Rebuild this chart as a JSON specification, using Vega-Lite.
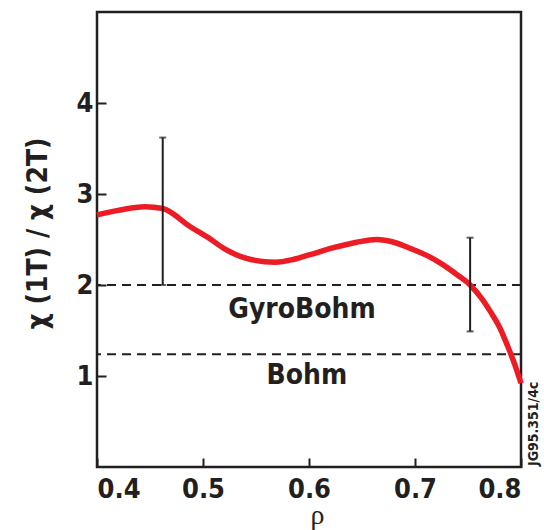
{
  "$schema": "https://vega.github.io/schema/vega-lite/v6.json",
  "autosize": "none",
  "width": 424,
  "height": 455,
  "padding": {"left": 97, "top": 12, "right": 23, "bottom": 63},
  "background": "white",
  "config": {
    "view": {"stroke": "#231f20", "strokeWidth": 2.5},
    "font": "DejaVu Sans Condensed, Liberation Sans Narrow, Liberation Sans, sans-serif"
  },
  "datasets": {
    "curve": [
      {"rho": 0.400, "ratio": 2.77},
      {"rho": 0.420, "ratio": 2.82},
      {"rho": 0.445, "ratio": 2.86},
      {"rho": 0.462, "ratio": 2.84},
      {"rho": 0.488, "ratio": 2.64},
      {"rho": 0.505, "ratio": 2.52},
      {"rho": 0.520, "ratio": 2.40},
      {"rho": 0.545, "ratio": 2.28},
      {"rho": 0.568, "ratio": 2.25},
      {"rho": 0.585, "ratio": 2.28},
      {"rho": 0.600, "ratio": 2.33},
      {"rho": 0.623, "ratio": 2.41},
      {"rho": 0.645, "ratio": 2.47},
      {"rho": 0.664, "ratio": 2.50},
      {"rho": 0.680, "ratio": 2.47},
      {"rho": 0.696, "ratio": 2.40},
      {"rho": 0.712, "ratio": 2.32},
      {"rho": 0.724, "ratio": 2.24},
      {"rho": 0.740, "ratio": 2.11},
      {"rho": 0.752, "ratio": 2.00},
      {"rho": 0.763, "ratio": 1.85},
      {"rho": 0.771, "ratio": 1.71},
      {"rho": 0.780, "ratio": 1.53},
      {"rho": 0.787, "ratio": 1.34},
      {"rho": 0.794, "ratio": 1.13},
      {"rho": 0.800, "ratio": 0.92}
    ],
    "errors": [
      {"rho": 0.462, "low": 2.0, "high": 3.62},
      {"rho": 0.752, "low": 1.49, "high": 2.52}
    ],
    "levels": [
      {"level": 2.0, "name": "GyroBohm"},
      {"level": 1.24, "name": "Bohm"}
    ],
    "labels": [
      {"rho": 0.5934, "ratio": 1.73, "text": "GyroBohm"},
      {"rho": 0.598, "ratio": 0.995, "text": "Bohm"}
    ],
    "code": [
      {"rho": 0.8, "ratio": 0, "text": "JG95.351/4c"}
    ]
  },
  "layer": [
    {
      "data": {"name": "levels"},
      "mark": {"type": "rule", "stroke": "#231f20", "strokeWidth": 2, "strokeDash": [9, 6]},
      "encoding": {
        "y": {
          "field": "level",
          "type": "quantitative",
          "title": "χ (1T) / χ (2T)",
          "scale": {"domain": [0, 5], "nice": false},
          "axis": {
            "values": [1, 2, 3, 4],
            "format": "d",
            "domain": false,
            "grid": false,
            "tickSize": -9,
            "tickWidth": 2,
            "tickColor": "#231f20",
            "labelFontWeight": "bold",
            "labelFontSize": 27,
            "labelColor": "#231f20",
            "labelPadding": 13,
            "titleFontWeight": "bold",
            "titleFontSize": 28,
            "titleColor": "#231f20",
            "titleX": -59,
            "titleY": 221,
            "titleAngle": 270,
            "titleAlign": "center",
            "titleBaseline": "middle"
          }
        }
      }
    },
    {
      "data": {"name": "curve"},
      "mark": {"type": "line", "color": "#ed1c24", "strokeWidth": 5.5, "interpolate": "monotone", "strokeCap": "butt"},
      "encoding": {
        "x": {
          "field": "rho",
          "type": "quantitative",
          "title": "ρ",
          "scale": {"domain": [0.4, 0.8], "nice": false},
          "axis": {
            "values": [0.4, 0.5, 0.6, 0.7, 0.8],
            "format": ".1f",
            "domain": false,
            "grid": false,
            "tickSize": -9,
            "tickWidth": 2,
            "tickColor": "#231f20",
            "labelFontWeight": "bold",
            "labelFontSize": 27,
            "labelColor": "#231f20",
            "labelPadding": 18,
            "titleFont": "Liberation Serif",
            "titleFontWeight": "normal",
            "titleFontSize": 28,
            "titleColor": "#231f20",
            "titleX": 220,
            "titleY": 34,
            "titleBaseline": "top"
          }
        },
        "y": {"field": "ratio", "type": "quantitative", "title": "χ (1T) / χ (2T)"}
      }
    },
    {
      "data": {"name": "errors"},
      "mark": {"type": "errorbar", "ticks": {"size": 7, "thickness": 2, "color": "#231f20"}, "rule": {"strokeWidth": 2, "color": "#231f20"}},
      "encoding": {
        "x": {"field": "rho", "type": "quantitative", "title": "ρ"},
        "y": {"field": "low", "type": "quantitative", "title": "χ (1T) / χ (2T)"},
        "y2": {"field": "high"}
      }
    },
    {
      "data": {"name": "labels"},
      "mark": {"type": "text", "fontWeight": "bold", "fontSize": 28, "color": "#231f20", "align": "center", "baseline": "middle"},
      "encoding": {
        "x": {"field": "rho", "type": "quantitative", "title": "ρ"},
        "y": {"field": "ratio", "type": "quantitative", "title": "χ (1T) / χ (2T)"},
        "text": {"field": "text"}
      }
    },
    {
      "data": {"name": "code"},
      "mark": {"type": "text", "fontWeight": "bold", "fontSize": 14, "color": "#231f20", "align": "left", "baseline": "middle", "angle": 270, "dx": 1, "dy": 13},
      "encoding": {
        "x": {"field": "rho", "type": "quantitative", "title": "ρ"},
        "y": {"field": "ratio", "type": "quantitative", "title": "χ (1T) / χ (2T)"},
        "text": {"field": "text"}
      }
    }
  ]
}
